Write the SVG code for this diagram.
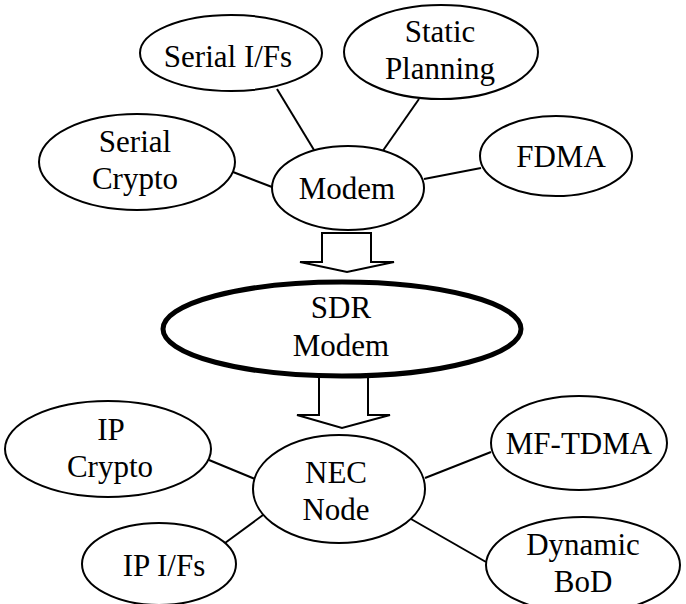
<svg xmlns="http://www.w3.org/2000/svg" width="686" height="604" viewBox="0 0 686 604">
  <style>
    .node ellipse { fill: #ffffff; stroke: #000000; stroke-width: 2; }
    .node.main ellipse { stroke-width: 5; }
    .node text { font-size: 31px; fill: #000000; text-anchor: middle; }
    .edges line { stroke: #000000; stroke-width: 2; }
    .edges polygon { fill: #ffffff; stroke: #000000; stroke-width: 2; stroke-linejoin: miter; }
  </style>
  <rect x="0" y="0" width="686" height="604" fill="#ffffff"/>

  <!-- connectors -->
  <g id="edges" class="edges">
    <line x1="277" y1="89" x2="314" y2="150"/>
    <line x1="233" y1="172" x2="272" y2="187"/>
    <line x1="419" y1="99" x2="382" y2="152"/>
    <line x1="481" y1="168" x2="424" y2="179"/>
    <line x1="209" y1="460" x2="255" y2="479"/>
    <line x1="225" y1="543" x2="263" y2="515"/>
    <line x1="491" y1="452" x2="425" y2="478"/>
    <line x1="486" y1="562" x2="411" y2="519"/>
    <!-- block arrows between stages -->
    <polygon points="322,233 371,233 371,262 394,262 347,272 300,262 322,262"/>
    <polygon points="319,376 368,376 368,415 390,415 342,428 297,415 319,415"/>
  </g>

  <g id="nodes" font-family="'Liberation Serif', 'DejaVu Serif', serif">
  <g id="serial-ifs" class="node">
    <ellipse cx="231" cy="53" rx="91" ry="38"/>
    <text x="228" y="67">Serial I/Fs</text>
  </g>
  <g id="static-planning" class="node">
    <ellipse cx="441" cy="52" rx="97" ry="47"/>
    <text x="440" y="42">Static</text>
    <text x="440" y="79">Planning</text>
  </g>
  <g id="serial-crypto" class="node">
    <ellipse cx="137" cy="162" rx="98" ry="48"/>
    <text x="135" y="152">Serial</text>
    <text x="135" y="189">Crypto</text>
  </g>
  <g id="fdma" class="node">
    <ellipse cx="556" cy="156" rx="76" ry="40"/>
    <text x="561" y="167">FDMA</text>
  </g>
  <g id="modem" class="node">
    <ellipse cx="348" cy="188" rx="76" ry="42"/>
    <text x="347" y="199">Modem</text>
  </g>
  <g id="sdr-modem" class="node main">
    <ellipse cx="342" cy="329" rx="179" ry="47"/>
    <text x="341" y="318">SDR</text>
    <text x="341" y="356">Modem</text>
  </g>
  <g id="nec-node" class="node">
    <ellipse cx="339" cy="489" rx="86" ry="54"/>
    <text x="336" y="483">NEC</text>
    <text x="336" y="520">Node</text>
  </g>
  <g id="ip-crypto" class="node">
    <ellipse cx="108" cy="449" rx="103" ry="48"/>
    <text x="111" y="440">IP</text>
    <text x="110" y="477">Crypto</text>
  </g>
  <g id="mf-tdma" class="node">
    <ellipse cx="579" cy="443" rx="88" ry="47"/>
    <text x="579" y="454">MF-TDMA</text>
  </g>
  <g id="ip-ifs" class="node">
    <ellipse cx="159" cy="564" rx="77" ry="41"/>
    <text x="164" y="576">IP I/Fs</text>
  </g>
  <g id="dynamic-bod" class="node">
    <ellipse cx="583" cy="565" rx="97" ry="48"/>
    <text x="583" y="555">Dynamic</text>
    <text x="583" y="592">BoD</text>
  </g>
  </g>
</svg>
